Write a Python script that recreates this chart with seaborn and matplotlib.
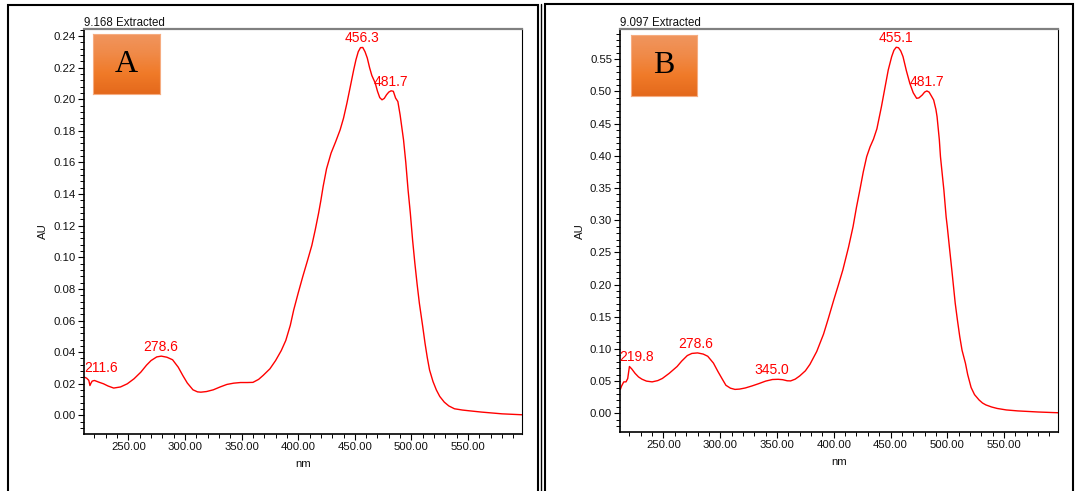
import numpy as np
import pandas as pd
import matplotlib
matplotlib.use('Agg')
import matplotlib.pyplot as plt
import seaborn as sns
from matplotlib.ticker import MultipleLocator, FormatStrFormatter
from matplotlib.patches import Rectangle
from matplotlib.lines import Line2D
from matplotlib.colors import LinearSegmentedColormap

# ---------------- data ----------------
wl_a = [211, 213, 215, 216, 217, 218, 220, 224, 228, 232, 237, 243, 249, 255, 261,
        266, 270, 275, 279, 284, 289, 294, 298, 302, 307, 311, 314, 319, 325, 331,
        337, 343, 349, 355, 360, 365, 369, 375, 380, 385, 389, 393, 396, 400, 404,
        408, 412, 415, 418, 420, 422, 425, 429, 433, 437, 440, 443, 446, 449, 451,
        453, 455, 457, 459, 461, 463, 465, 468, 470, 472, 474, 476, 478, 480, 482,
        484, 486, 488, 490, 493, 495, 497, 499, 501, 503, 505, 507, 510, 512, 514,
        516, 519, 522, 525, 529, 533, 538, 545, 550, 562, 580, 598]
au_a = [0.0242, 0.0236, 0.0222, 0.0189, 0.0205, 0.0217, 0.0221, 0.0210, 0.0200, 0.0186,
        0.0173, 0.0180, 0.0200, 0.0232, 0.0274, 0.0318, 0.0347, 0.0370, 0.0375, 0.0368,
        0.0352, 0.0305, 0.0253, 0.0205, 0.0162, 0.0149, 0.0147, 0.0151, 0.0162, 0.0180,
        0.0196, 0.0204, 0.0208, 0.0208, 0.0209, 0.0228, 0.0253, 0.0295, 0.0347, 0.0410,
        0.0474, 0.0570, 0.0667, 0.0775, 0.0878, 0.0975, 0.1075, 0.1173, 0.1280, 0.1360,
        0.1448, 0.1560, 0.1659, 0.1730, 0.1806, 0.1880, 0.1975, 0.2080, 0.2186, 0.2250,
        0.2300, 0.2326, 0.2327, 0.2300, 0.2260, 0.2200, 0.2150, 0.2102, 0.2050, 0.2010,
        0.1996, 0.2005, 0.2028, 0.2045, 0.2053, 0.2050, 0.2007, 0.1985, 0.1900, 0.1743,
        0.1600, 0.1427, 0.1280, 0.1110, 0.0963, 0.0830, 0.0709, 0.0560, 0.0456, 0.0365,
        0.0287, 0.0215, 0.0161, 0.0120, 0.0084, 0.0060, 0.0042, 0.0034, 0.0030, 0.0021,
        0.0010, 0.0004]

wl_b = [212, 213, 215, 217, 218.5, 220, 222, 225, 228, 231, 235, 240, 245, 249, 255,
        262, 266, 271, 275, 280, 285, 289, 294, 298, 302, 305, 309, 313, 317, 322,
        328, 334, 340, 346, 351, 355, 359, 362, 366, 370, 375, 379, 385, 391, 395,
        400, 404, 408, 413, 417, 420, 423, 426, 429, 432, 435, 438, 442, 445, 448,
        451, 453, 455, 457, 459, 461, 464, 467, 470, 473, 475, 478, 480, 482, 484,
        486, 488, 490, 491, 493, 494, 496, 497, 499, 500, 502, 504, 507, 509, 511,
        513, 516, 518, 521, 524, 528, 531, 534, 539, 544, 552, 562, 580, 598]
au_b = [0.0371, 0.0420, 0.0488, 0.0488, 0.0540, 0.0727, 0.0690, 0.0620, 0.0565, 0.0530,
        0.0500, 0.0488, 0.0508, 0.0541, 0.0620, 0.0727, 0.0810, 0.0897, 0.0930, 0.0938,
        0.0920, 0.0886, 0.0780, 0.0648, 0.0525, 0.0435, 0.0390, 0.0371, 0.0376, 0.0393,
        0.0425, 0.0461, 0.0500, 0.0525, 0.0528, 0.0522, 0.0505, 0.0503, 0.0530, 0.0580,
        0.0660, 0.0760, 0.0960, 0.1230, 0.1460, 0.1760, 0.1990, 0.2227, 0.2580, 0.2900,
        0.3200, 0.3470, 0.3750, 0.3987, 0.4140, 0.4260, 0.4420, 0.4764, 0.5050, 0.5334,
        0.5540, 0.5640, 0.5687, 0.5680, 0.5630, 0.5542, 0.5320, 0.5127, 0.4980, 0.4894,
        0.4900, 0.4946, 0.4990, 0.5008, 0.4990, 0.4930, 0.4868, 0.4720, 0.4609, 0.4250,
        0.3987, 0.3640, 0.3470, 0.3050, 0.2900, 0.2560, 0.2227, 0.1709, 0.1440, 0.1190,
        0.0980, 0.0777, 0.0600, 0.0400, 0.0290, 0.0207, 0.0160, 0.0130, 0.0098, 0.0075,
        0.0052, 0.0037, 0.0020, 0.0008]

peaks_a_nm = [211.6, 278.6, 456.3, 481.7]
peaks_a_au = [0.0242, 0.0375, 0.2330, 0.2053]
peaks_a_lbl = ['211.6', '278.6', '456.3', '481.7']

peaks_b_nm = [219.8, 278.6, 345.0, 455.1, 481.7]
peaks_b_au = [0.0727, 0.0938, 0.0525, 0.5687, 0.5008]
peaks_b_lbl = ['219.8', '278.6', '345.0', '455.1', '481.7']

titles = ['9.168 Extracted', '9.097 Extracted']
panel_letters = ['A', 'B']
x_major = [250, 300, 350, 400, 450, 500, 550]

# ---------------- style ----------------
sns.set_theme(style='white')
plt.rcParams['font.family'] = ['Liberation Sans', 'DejaVu Sans']

W, H = 1075, 491
fig = plt.figure(figsize=(W / 100, H / 100), dpi=100)

def fx(px):
    return px / W

def fy(py):
    return 1 - py / H

# axes positions (pixels: left, top, right, bottom)
ax_px = [(83.7, 29.3, 522.4, 433.6), (620.0, 29.3, 1058.3, 432.4)]
xlims = [(210.5, 598.0), (211.7, 597.8)]
ylims = [(-0.0115, 0.2442), (-0.0297, 0.5966)]
ymaj = [0.02, 0.05]
ymin = [0.004, 0.01]
box_pos = [(0.0205, 0.8392, 0.1534, 0.1492), (0.0244, 0.8353, 0.152, 0.1506)]
ylab_x = [-0.092, -0.091]

# label offsets (points) and alignment
lbl_cfg = [
    [(-0.4, 1.5, 'left'), (0, 1.5, 'center'), (0, 1.5, 'center'), (0, 1.5, 'center')],
    [(-7.0, 1.5, 'left'), (0, 1.5, 'center'), (0, 1.5, 'center'), (0, 1.5, 'center'), (0, 1.5, 'center')],
]

datasets = [
    (wl_a, au_a, peaks_a_nm, peaks_a_au, peaks_a_lbl),
    (wl_b, au_b, peaks_b_nm, peaks_b_au, peaks_b_lbl),
]

grad_cmap = LinearSegmentedColormap.from_list(
    'box', ['#E4691C', '#F07A28', '#F08A48', '#F0955E'])

for i in range(2):
    l, t, r, b = ax_px[i]
    ax = fig.add_axes([fx(l), fy(b), fx(r) - fx(l), fy(t) - fy(b)])
    wl, au, pnm, pau, plbl = datasets[i]
    df = pd.DataFrame({'nm': wl, 'AU': au})
    sns.lineplot(data=df, x='nm', y='AU', ax=ax, color='#FF0000', linewidth=1.0,
                 estimator=None, sort=False)
    ax.set_xlim(*xlims[i])
    ax.set_ylim(*ylims[i])

    ax.xaxis.set_major_locator(plt.FixedLocator(x_major))
    ax.xaxis.set_minor_locator(MultipleLocator(10))
    ax.xaxis.set_major_formatter(FormatStrFormatter('%.2f'))
    ax.yaxis.set_major_locator(MultipleLocator(ymaj[i]))
    ax.yaxis.set_minor_locator(MultipleLocator(ymin[i]))
    ax.yaxis.set_major_formatter(FormatStrFormatter('%.2f'))

    ax.tick_params(which='both', direction='out', bottom=True, left=True,
                   top=False, right=False, color='black', labelcolor='#111111')
    ax.tick_params(which='major', length=4.5, width=0.8, labelsize=8.2, pad=1.2)
    ax.tick_params(which='minor', length=2.6, width=0.7)

    for side in ['left', 'bottom']:
        ax.spines[side].set_color('black')
        ax.spines[side].set_linewidth(1.2)
    ax.spines['right'].set_color('black')
    ax.spines['right'].set_linewidth(0.8)
    ax.spines['top'].set_color('#808080')
    ax.spines['top'].set_linewidth(1.6)

    ax.set_xlabel('nm', fontsize=8.2, color='#111111')
    ax.set_ylabel('AU', fontsize=8.2, color='#111111')
    ax.xaxis.set_label_coords(0.5, -0.074)
    ax.xaxis.label.set_va('center')
    ax.yaxis.set_label_coords(ylab_x[i], 0.5)
    ax.yaxis.label.set_va('center')

    ax.set_title(titles[i], loc='left', fontsize=8.3, pad=2.2, color='#111111')

    for (nm_, v_, s_), (dx, dy, ha) in zip(zip(pnm, pau, plbl), lbl_cfg[i]):
        ax.annotate(s_, xy=(nm_, v_), xytext=(dx, dy), textcoords='offset points',
                    ha=ha, va='bottom', color='#FF0000', fontsize=10)

    # orange letter box
    bx = ax.inset_axes(list(box_pos[i]))
    grad = np.linspace(0, 1, 100).reshape(-1, 1)
    bx.imshow(grad, aspect='auto', cmap=grad_cmap, extent=[0, 1, 0, 1], origin='lower')
    bx.set_xticks([])
    bx.set_yticks([])
    for sp in bx.spines.values():
        sp.set_color('#F6AC80')
        sp.set_linewidth(0.8)
    bx.text(0.5, 0.5, panel_letters[i], ha='center', va='center', fontsize=23,
            family=['Liberation Serif', 'DejaVu Serif'], color='black',
            transform=bx.transAxes)

# outer frames
fig.add_artist(Rectangle((fx(7.5), -0.05), fx(538) - fx(7.5), fy(4.5) + 0.05,
                         transform=fig.transFigure, fill=False, lw=1.5, ec='black'))
fig.add_artist(Rectangle((fx(544.5), -0.05), fx(1073) - fx(544.5), fy(4.2) + 0.05,
                         transform=fig.transFigure, fill=False, lw=1.5, ec='black'))
fig.add_artist(Line2D([fx(541.3), fx(541.3)], [0, fy(4.2)], transform=fig.transFigure,
                      lw=1.0, color='black'))

fig.savefig('out.png', dpi=100)
